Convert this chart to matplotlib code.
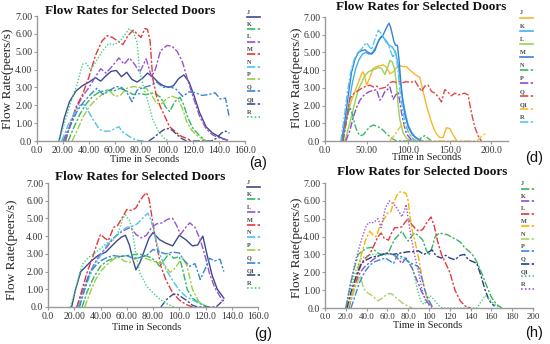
import matplotlib
matplotlib.use("Agg")
import matplotlib.pyplot as plt
from matplotlib.lines import Line2D

# ---------------- data (time s, flow peers/s) ----------------
NAMES = ["J", "K", "L", "M", "N", "P", "Q", "Q1", "R"]
Y_TICKS = [0, 1, 2, 3, 4, 5, 6, 7]
Y_LABELS = ["0.0", "1.00", "2.00", "3.00", "4.00", "5.00", "6.00", "7.00"]

# panel (a)
A_J_T = [17, 21, 25, 30, 35, 40, 45, 49, 53, 57, 61, 65, 69, 73, 77, 81, 85, 89, 93, 97, 101, 105, 109, 113, 117, 121, 125, 130, 135, 141, 146]
A_J_V = [0, 1.3, 2.2, 2.8, 3.1, 3.3, 3.55, 3.35, 3.65, 3.9, 3.95, 3.6, 3.85, 3.45, 3.3, 3.5, 3.8, 3.6, 3.3, 3.1, 3.0, 3.1, 3.5, 3.7, 3.3, 2.5, 1.6, 0.8, 0.45, 0.2, 0.05]
A_K_T = [24, 28, 33, 38, 43, 48, 54, 59, 64, 69, 74, 79, 84, 90, 95, 99, 102, 106, 110, 113, 116, 120, 125, 130]
A_K_V = [0, 0.7, 1.5, 2.1, 2.5, 2.75, 2.85, 2.8, 2.95, 2.8, 2.6, 2.65, 2.6, 2.7, 2.45, 1.9, 1.65, 2.2, 2.45, 2.0, 1.3, 0.7, 0.3, 0]
A_L_T = [20, 25, 30, 35, 40, 45, 49, 53, 58, 63, 67, 71, 75, 79, 84, 88, 91, 95, 100, 104, 108, 112, 116, 120, 125, 130, 135, 141, 147]
A_L_V = [0, 0.8, 1.8, 2.5, 3.0, 3.6, 4.05, 3.8, 4.2, 4.65, 4.3, 4.65, 4.3, 3.85, 4.6, 3.6, 4.0, 5.05, 5.35, 5.3, 5.0, 4.4, 3.4, 2.5, 1.4, 0.7, 0.35, 0.15, 0.05]
A_M_T = [22, 26, 30, 35, 40, 45, 50, 54, 58, 62, 66, 70, 74, 77, 80, 83, 85, 87, 89, 92, 95, 102, 110, 118]
A_M_V = [0, 1.0, 1.9, 2.6, 3.6, 4.8, 5.6, 5.9, 5.8, 5.6, 5.4, 5.9, 6.2, 6.0, 5.8, 6.3, 6.25, 5.6, 3.5, 2.5, 1.9, 0.8, 0.3, 0.05]
A_N_T = [19, 24, 29, 33, 36, 40, 44, 48, 52, 56, 60, 63, 66, 70, 74, 78, 82]
A_N_V = [0, 0.9, 1.6, 2.0, 2.05, 1.6, 1.1, 0.65, 0.55, 0.55, 0.7, 0.8, 0.5, 0.3, 0.12, 0.03, 0]
A_P_T = [27, 31, 35, 40, 45, 50, 55, 60, 64, 69, 74, 79, 84, 88, 92, 96, 100, 104, 108, 112, 115, 119, 124, 130]
A_P_V = [0, 0.6, 1.3, 1.9, 2.3, 2.6, 2.85, 2.5, 2.55, 2.95, 3.05, 3.0, 2.95, 2.6, 2.1, 2.1, 2.4, 2.5, 2.4, 1.8, 1.1, 0.6, 0.25, 0]
A_Q_T = [21, 26, 31, 36, 41, 46, 51, 56, 61, 65, 69, 73, 77, 82, 87, 92, 97, 102, 107, 112, 117, 122, 127, 132, 137, 141, 145, 148]
A_Q_V = [0, 0.9, 1.7, 2.2, 2.6, 2.95, 2.6, 2.85, 3.05, 3.0, 2.75, 2.2, 2.85, 3.0, 3.1, 3.3, 3.0, 3.05, 2.9, 2.5, 2.75, 2.7, 2.55, 2.6, 2.7, 2.35, 2.4, 1.3]
A_Q1_T = [86, 90, 94, 98, 101, 104, 107, 111, 115, 134, 138, 142, 145, 148]
A_Q1_V = [0, 0.2, 0.45, 0.65, 0.7, 0.6, 0.4, 0.15, 0, 0, 0.15, 0.45, 0.55, 0.45]
A_R_T = [17, 22, 27, 31, 35, 38, 41, 45, 50, 55, 60, 65, 68, 71, 74, 77, 79, 82, 85, 89, 93, 97, 101]
A_R_V = [0, 1.2, 2.4, 3.2, 4.3, 4.35, 4.0, 4.4, 5.0, 5.45, 5.4, 5.7, 6.0, 6.3, 6.1, 5.5, 3.9, 3.0, 2.3, 1.2, 0.6, 0.2, 0]

# panel (d)
D_J_T = [20, 24, 28, 32, 36, 40, 44, 46, 48, 50, 54, 58, 62, 66, 70, 74, 78, 82, 86, 90, 94, 98, 102, 106, 110, 114, 118, 122, 126, 130, 134, 138, 142, 146, 150, 154, 158]
D_J_V = [0, 0.9, 1.7, 2.3, 2.8, 3.3, 3.8, 3.9, 3.6, 3.15, 3.6, 4.1, 4.2, 4.25, 4.3, 4.15, 3.8, 3.9, 4.15, 4.25, 4.2, 4.2, 4.0, 3.85, 3.7, 3.6, 2.8, 2.0, 1.35, 0.8, 0.4, 0.2, 0.2, 0.75, 0.7, 0.35, 0.05]
D_K_T = [21, 25, 29, 33, 37, 41, 45, 49, 53, 57, 61, 65, 69, 73, 77, 81, 85, 88, 91, 94, 97, 100, 104, 108, 113, 118]
D_K_V = [0, 1.0, 2.2, 3.3, 4.1, 4.6, 4.9, 5.0, 4.9, 5.0, 5.3, 5.7, 5.9, 5.7, 5.4, 5.3, 5.0, 4.3, 3.2, 2.2, 1.5, 0.9, 0.5, 0.25, 0.08, 0]
D_L_T = [24, 28, 32, 36, 40, 44, 48, 52, 56, 60, 64, 68, 72, 75, 78, 81, 84, 86, 88, 90, 94, 98, 104]
D_L_V = [0, 0.7, 1.4, 2.2, 2.9, 3.3, 3.7, 3.9, 4.0, 4.05, 4.15, 4.1, 3.75, 4.1, 4.55, 4.45, 4.0, 3.1, 2.0, 1.2, 0.45, 0.15, 0]
D_M_T = [20, 24, 28, 32, 36, 40, 44, 48, 52, 56, 60, 63, 66, 70, 73, 75, 77, 79, 81, 83, 85, 87, 89, 91, 93, 96, 100, 105, 110, 116]
D_M_V = [0, 1.2, 2.6, 3.9, 4.6, 5.0, 5.1, 5.15, 5.0, 4.9, 5.1, 5.5, 5.8, 6.0, 6.3, 6.5, 6.65, 6.4, 6.0, 5.6, 5.4, 5.4, 4.6, 3.4, 2.4, 1.5, 0.8, 0.35, 0.15, 0]
D_N_T = [21, 25, 28, 30, 33, 36, 39, 42, 46, 50, 54, 58, 62, 66, 70, 74, 78, 82, 86, 112, 116, 120, 124, 128]
D_N_V = [0, 0.9, 1.6, 1.9, 1.5, 0.9, 0.5, 0.3, 0.35, 0.6, 0.8, 0.9, 0.85, 0.75, 0.6, 0.4, 0.25, 0.1, 0, 0, 0.2, 0.3, 0.15, 0]
D_P_T = [25, 30, 34, 38, 42, 46, 50, 54, 58, 62, 64, 66, 69, 72, 75, 78, 80, 82, 85, 88, 90, 92, 95, 98, 104]
D_P_V = [0, 0.6, 1.35, 1.9, 2.3, 2.55, 2.7, 2.8, 2.85, 2.9, 2.6, 2.3, 2.5, 2.8, 2.9, 3.05, 2.7, 2.35, 2.6, 2.75, 2.2, 1.6, 0.9, 0.4, 0.05]
D_Q_T = [22, 26, 30, 35, 40, 45, 50, 54, 58, 62, 66, 70, 74, 78, 82, 86, 90, 94, 98, 103, 108, 112, 116, 120, 124, 128, 132, 136, 140, 144, 148, 152, 156, 160, 164, 168, 172, 176, 180, 184, 188]
D_Q_V = [0, 1.3, 2.4, 2.7, 2.85, 3.0, 3.1, 3.15, 3.05, 3.1, 2.95, 3.0, 3.05, 3.3, 3.35, 3.3, 3.35, 3.3, 3.35, 3.3, 3.4, 3.1, 2.8, 3.1, 3.15, 2.8, 2.7, 2.5, 2.2, 2.9, 2.75, 2.55, 2.7, 2.6, 2.65, 2.7, 2.6, 1.6, 0.8, 0.3, 0]
D_Q1_T = [78, 83, 88, 93, 97, 101, 105, 110, 183, 187, 190, 193]
D_Q1_V = [0, 0.3, 0.65, 0.95, 0.85, 0.45, 0.15, 0, 0, 0.2, 0.35, 0.4]
D_R_T = [19, 23, 27, 31, 35, 40, 44, 47, 50, 53, 56, 59, 62, 64, 67, 70, 73, 76, 79, 82, 84, 86, 88, 90, 93, 96, 100, 105, 110]
D_R_V = [0, 1.3, 2.8, 3.9, 4.6, 5.0, 5.2, 5.4, 5.55, 5.35, 5.15, 5.6, 6.0, 6.25, 6.1, 5.9, 5.6, 5.45, 5.05, 4.7, 5.1, 4.6, 3.9, 2.9, 1.9, 1.1, 0.5, 0.15, 0]

# panel (g)
G_J_T = [18, 21, 25, 29, 33, 38, 44, 48, 52, 56, 59, 62, 65, 67, 70, 74, 77, 80, 85, 90, 95, 100, 105, 110, 114, 118, 121, 125, 129, 134]
G_J_V = [0, 1.0, 2.0, 2.3, 2.6, 2.9, 3.1, 3.4, 3.7, 3.95, 4.05, 3.5, 2.6, 2.1, 2.5, 3.3, 3.9, 4.2, 3.8, 3.6, 3.45, 4.05, 3.8, 3.45, 3.5, 4.0, 3.0, 1.8, 1.0, 0.5]
G_K_T = [26, 30, 35, 40, 45, 50, 55, 60, 65, 69, 74, 78, 82, 85, 89, 92, 96, 100, 103, 106, 110, 116, 122]
G_K_V = [0, 0.9, 1.7, 2.3, 2.6, 2.75, 2.85, 2.9, 2.95, 3.0, 2.9, 2.8, 2.6, 2.3, 2.7, 3.0, 2.75, 2.85, 2.0, 1.0, 0.5, 0.2, 0]
G_L_T = [22, 26, 30, 35, 40, 45, 50, 55, 60, 63, 67, 71, 75, 79, 83, 87, 91, 95, 98, 101, 105, 108, 112, 116, 120, 123, 127, 131, 134]
G_L_V = [0, 0.8, 1.6, 2.4, 3.0, 3.4, 3.9, 4.2, 4.4, 4.5, 4.1, 3.9, 4.05, 4.5, 4.7, 4.75, 4.95, 5.0, 4.6, 4.1, 4.5, 4.75, 4.5, 3.8, 2.8, 1.9, 1.1, 0.6, 0.2]
G_M_T = [22, 26, 30, 34, 37, 40, 43, 46, 50, 53, 57, 60, 64, 67, 70, 73, 75, 77, 80, 83, 86, 90, 95, 100, 105, 110]
G_M_V = [0, 1.0, 2.0, 2.8, 3.5, 4.1, 3.9, 3.75, 4.5, 4.6, 5.1, 5.5, 5.45, 5.6, 6.0, 6.3, 6.45, 6.1, 4.7, 3.4, 2.3, 1.5, 0.8, 0.4, 0.15, 0]
G_N_T = [23, 27, 31, 35, 40, 44, 48, 52, 56, 60, 64, 68, 72, 76, 78, 80, 85, 90, 95, 100, 105, 110, 118]
G_N_V = [0, 0.8, 1.6, 2.3, 2.9, 3.4, 3.8, 4.0, 4.3, 4.5, 4.55, 4.7, 5.0, 5.3, 5.0, 4.5, 3.0, 2.1, 1.5, 0.95, 0.6, 0.4, 0.1]
G_P_T = [28, 32, 36, 40, 45, 50, 54, 58, 62, 66, 70, 74, 78, 83, 88, 93, 97, 100, 103, 106, 110, 115, 121]
G_P_V = [0, 0.8, 1.5, 2.0, 2.4, 2.7, 2.8, 2.6, 2.5, 2.7, 2.8, 2.75, 2.65, 2.5, 2.45, 1.95, 2.2, 2.55, 2.75, 2.3, 1.0, 0.3, 0]
G_Q_T = [24, 28, 32, 36, 40, 45, 50, 55, 60, 65, 70, 75, 80, 85, 90, 95, 100, 104, 108, 112, 116, 120, 123, 127, 131, 134]
G_Q_V = [0, 1.0, 2.0, 2.3, 2.6, 2.8, 2.9, 2.85, 2.9, 2.75, 2.8, 2.9, 3.25, 3.1, 3.0, 3.1, 3.05, 2.6, 2.3, 2.45, 1.55, 2.2, 2.75, 2.6, 2.7, 2.0]
G_Q1_T = [86, 90, 95, 98, 102, 106, 110, 114, 128, 131, 134]
G_Q1_V = [0, 0.4, 0.7, 0.75, 0.55, 0.35, 0.1, 0, 0, 0.2, 0.4]
G_R_T = [17, 21, 24, 27, 31, 35, 40, 45, 50, 54, 57, 59, 62, 64, 67, 70, 75, 80, 85, 90, 96]
G_R_V = [0, 1.0, 1.9, 2.5, 2.8, 3.0, 3.3, 3.6, 3.8, 4.3, 5.0, 5.2, 4.9, 4.4, 3.0, 1.9, 1.2, 0.8, 0.45, 0.2, 0]

# panel (h)
H_J_T = [20, 24, 28, 32, 36, 40, 45, 50, 54, 58, 61, 64, 67, 71, 74, 77, 80, 83, 86, 90, 94, 97, 100, 103, 106, 110, 114, 118, 122, 126, 130, 134, 138, 141, 144, 147, 151, 155, 160, 165, 170]
H_J_V = [0, 1.2, 2.2, 3.0, 3.2, 3.35, 3.4, 3.1, 3.0, 3.05, 3.1, 3.5, 3.85, 4.1, 4.3, 4.0, 3.75, 4.0, 4.2, 4.05, 3.8, 3.3, 2.95, 3.4, 4.0, 4.2, 4.15, 4.1, 3.95, 3.85, 3.7, 3.4, 3.2, 3.05, 2.8, 2.45, 1.9, 1.3, 0.6, 0.2, 0]
H_K_T = [22, 26, 30, 34, 38, 42, 46, 51, 56, 61, 64, 67, 71, 74, 78, 81, 84, 88, 93, 98, 103]
H_K_V = [0, 0.8, 1.5, 2.0, 2.3, 2.5, 2.7, 2.9, 3.0, 3.1, 3.0, 2.95, 2.7, 2.5, 2.8, 2.5, 2.2, 1.6, 0.9, 0.35, 0.05]
H_L_T = [23, 27, 31, 35, 39, 43, 47, 51, 54, 57, 61, 64, 67, 71, 74, 77, 80, 83, 86, 90, 94, 98, 102, 105, 108, 112, 116, 120, 125, 130, 135, 140]
H_L_V = [0, 0.9, 1.8, 2.5, 2.8, 3.0, 3.5, 4.0, 4.2, 3.9, 3.8, 4.2, 4.5, 4.5, 4.55, 4.8, 5.0, 4.7, 4.5, 4.3, 4.4, 4.8, 5.1, 4.6, 3.8, 3.0, 2.5, 2.0, 1.0, 0.4, 0.1, 0]
H_M_T = [22, 27, 31, 35, 39, 43, 46, 49, 53, 57, 60, 63, 66, 69, 72, 75, 78, 80, 82, 84, 87, 90, 93, 96, 99, 103]
H_M_V = [0, 1.0, 2.0, 3.0, 3.8, 4.3, 4.1, 4.0, 4.6, 5.0, 5.3, 5.35, 5.9, 6.3, 6.5, 6.5, 6.4, 6.0, 5.0, 4.3, 3.6, 2.8, 1.8, 1.0, 0.4, 0.05]
H_N_T = [22, 26, 30, 34, 37, 41, 45, 48, 51, 55, 58, 61, 64, 67, 70, 74, 77, 80, 84]
H_N_V = [0, 0.6, 1.3, 1.8, 1.1, 0.85, 0.7, 0.55, 0.4, 0.55, 0.7, 0.8, 0.8, 0.65, 0.5, 0.3, 0.2, 0.1, 0]
H_P_T = [25, 29, 33, 38, 43, 48, 53, 58, 62, 66, 70, 74, 77, 80, 83, 87, 90, 93, 96, 99, 103]
H_P_V = [0, 0.7, 1.4, 2.0, 2.4, 2.6, 2.7, 2.8, 2.65, 2.5, 3.0, 2.85, 2.8, 2.6, 2.5, 2.4, 2.3, 1.7, 1.0, 0.5, 0.1]
H_Q_T = [21, 25, 30, 35, 40, 45, 50, 55, 60, 65, 70, 75, 80, 85, 90, 95, 100, 103, 107, 112, 116, 120, 125, 130, 134, 138, 142, 146, 150, 154, 158, 163]
H_Q_V = [0, 0.9, 1.8, 2.5, 2.7, 2.85, 2.9, 3.0, 3.05, 3.0, 3.05, 3.1, 3.15, 3.15, 3.2, 3.0, 3.15, 3.25, 2.9, 2.8, 2.95, 2.8, 2.7, 2.95, 3.0, 2.7, 2.6, 2.5, 1.8, 1.0, 0.4, 0.1]
H_Q1_T = [20, 24, 29, 35, 40, 45, 50, 55, 60, 64, 68, 72, 76, 80, 83, 86, 89, 92, 95, 98, 101, 105, 109, 113, 146, 150, 154, 158, 163, 168]
H_Q1_V = [0, 1.0, 2.0, 2.8, 2.9, 3.0, 3.0, 2.95, 3.0, 3.0, 2.9, 2.8, 2.7, 2.6, 2.5, 1.8, 1.0, 0.4, 0.2, 0.4, 0.7, 0.45, 0.15, 0, 0, 0.35, 0.7, 0.5, 0.2, 0]
H_R_T = [20, 25, 30, 35, 39, 42, 45, 48, 51, 54, 58, 62, 65, 68, 71, 74, 76, 78, 80, 83, 86, 90, 93, 96, 100, 104]
H_R_V = [0, 1.5, 2.8, 3.8, 4.5, 4.8, 4.75, 4.85, 5.0, 4.5, 5.6, 6.0, 5.85, 5.7, 5.4, 5.1, 5.4, 5.8, 5.0, 3.9, 3.0, 2.0, 1.1, 0.5, 0.15, 0]

# ---------------- styles ----------------
DASH = (5, 1.4, 1.6, 1.4)
DOT = (1, 1.3)
SOLID = None

STYLE_AG = {
    "J": ("#3d4a8c", SOLID), "K": ("#2fb865", DASH), "L": ("#9a52cf", DASH),
    "M": ("#e03a3a", DASH), "N": ("#4cc4ee", DASH), "P": ("#9ad040", DASH),
    "Q": ("#3a86d2", DASH), "Q1": ("#3d4a8c", DASH), "R": ("#3fd27a", DOT),
}
STYLE_D = {
    "J": ("#f5b82a", SOLID), "K": ("#3db3ee", SOLID), "L": ("#96d455", SOLID),
    "M": ("#3a7fd8", SOLID), "N": ("#39b865", DASH), "P": ("#8a4fcc", DASH),
    "Q": ("#e04848", DASH), "Q1": ("#f5c030", DASH), "R": ("#55c5f2", DASH),
}
STYLE_H = {
    "J": ("#35b55c", DASH), "K": ("#9050d0", DASH), "L": ("#e03a3a", DASH),
    "M": ("#f4b400", DASH), "N": ("#a6d466", DASH), "P": ("#3a86e0", DASH),
    "Q": ("#2a3a8a", DASH), "Q1": ("#3fd27a", DOT), "R": ("#9a55e0", DOT),
}

SERIF = "Liberation Serif"
W, H = 550, 344

fig = plt.figure(figsize=(W / 100, H / 100), dpi=100)


def fx(px):
    return px / W


def fy(py):
    return 1 - py / H


def panel(data, styles, box, xmax, xticks, xlabels, xsize, title_xy, ylab_xy, xlab_xy, tag_xy, leg_xy, leg_step):
    left, top, right, bottom = box
    ax = fig.add_axes([fx(left), fy(bottom), fx(right - left), (bottom - top) / H])
    for name in NAMES:
        t, v = data[name]
        color, dash = styles[name]
        ln, = ax.plot(t, v, color=color, lw=1.0)
        if dash is not None:
            ln.set_dashes(dash)
    ax.set_xlim(0, xmax)
    ax.set_ylim(0, 7)
    ax.set_facecolor("none")
    for s in ["top", "right"]:
        ax.spines[s].set_visible(False)
    for s in ["left", "bottom"]:
        ax.spines[s].set_color("#9a9a9a")
        ax.spines[s].set_linewidth(1.0)
    ax.set_yticks(Y_TICKS)
    ax.set_yticklabels(Y_LABELS)
    ax.set_xticks(xticks)
    ax.set_xticklabels(xlabels)
    ax.tick_params(length=2.5, width=0.8, color="#9a9a9a", pad=1.0, labelsize=7, labelcolor="#333333")
    ax.tick_params(axis="x", labelsize=xsize)
    for lab in ax.get_xticklabels() + ax.get_yticklabels():
        lab.set_fontfamily(SERIF)

    fig.text(fx(title_xy[0]), fy(title_xy[1]), "Flow Rates for Selected Doors", ha="center", va="center",
             fontsize=9.5, fontweight="bold", family=SERIF, color="#111111")
    fig.text(fx(ylab_xy[0]), fy(ylab_xy[1]), "Flow Rate(peers/s)", ha="center", va="center", rotation=90,
             fontsize=9.5, family=SERIF, color="#222222")
    fig.text(fx(xlab_xy[0]), fy(xlab_xy[1]), "Time in Seconds", ha="center", va="center",
             fontsize=7.5, family=SERIF, color="#222222")
    fig.text(fx(tag_xy[0]), fy(tag_xy[1]), tag_xy[2], ha="center", va="center",
             fontsize=10.5, family="Liberation Sans", color="#111111")

    lx, ly = leg_xy
    for i, name in enumerate(NAMES):
        y = ly + i * leg_step
        fig.text(fx(lx), fy(y), name, ha="left", va="center", fontsize=4.5, family=SERIF,
                 fontweight="bold", color="#444444")
        color, dash = styles[name]
        ln = Line2D([fx(lx), fx(lx + 13)], [fy(y + 4.5), fy(y + 4.5)], transform=fig.transFigure,
                    color=color, lw=1.2)
        if dash is not None:
            ln.set_dashes(dash)
        fig.add_artist(ln)
    return ax


data_a = {"J": (A_J_T, A_J_V), "K": (A_K_T, A_K_V), "L": (A_L_T, A_L_V), "M": (A_M_T, A_M_V),
          "N": (A_N_T, A_N_V), "P": (A_P_T, A_P_V), "Q": (A_Q_T, A_Q_V), "Q1": (A_Q1_T, A_Q1_V),
          "R": (A_R_T, A_R_V)}
data_d = {"J": (D_J_T, D_J_V), "K": (D_K_T, D_K_V), "L": (D_L_T, D_L_V), "M": (D_M_T, D_M_V),
          "N": (D_N_T, D_N_V), "P": (D_P_T, D_P_V), "Q": (D_Q_T, D_Q_V), "Q1": (D_Q1_T, D_Q1_V),
          "R": (D_R_T, D_R_V)}
data_g = {"J": (G_J_T, G_J_V), "K": (G_K_T, G_K_V), "L": (G_L_T, G_L_V), "M": (G_M_T, G_M_V),
          "N": (G_N_T, G_N_V), "P": (G_P_T, G_P_V), "Q": (G_Q_T, G_Q_V), "Q1": (G_Q1_T, G_Q1_V),
          "R": (G_R_T, G_R_V)}
data_h = {"J": (H_J_T, H_J_V), "K": (H_K_T, H_K_V), "L": (H_L_T, H_L_V), "M": (H_M_T, H_M_V),
          "N": (H_N_T, H_N_V), "P": (H_P_T, H_P_V), "Q": (H_Q_T, H_Q_V), "Q1": (H_Q1_T, H_Q1_V),
          "R": (H_R_T, H_R_V)}

X160 = [0, 20, 40, 60, 80, 100, 120, 140, 160]
X160_LAB = ["0.0", "20.00", "40.00", "60.00", "80.00", "100.0", "120.0", "140.0", "160.0"]
X220 = [0, 50, 100, 150, 200]
X220_LAB = ["0.0", "50.00", "100.0", "150.0", "200.0"]
X200 = [0, 20, 40, 60, 80, 100, 120, 140, 160, 180, 200]
X200_LAB = ["0.0", "20.0", "40.0", "60.0", "80.0", "100", "120", "140", "160", "180", "200"]

panel(data_a, STYLE_AG, (37, 16, 245, 141), 160, X160, X160_LAB, 7,
      (130, 11), (8, 79), (145, 160), (258, 163, "(a)"), (247, 12), 12.5)
panel(data_d, STYLE_D, (325, 17, 508, 141), 220, X220, X220_LAB, 7,
      (421, 7), (297, 78), (427, 158), (534, 158, "(d)"), (520, 13), 13.1)
panel(data_g, STYLE_AG, (48, 183, 258, 307), 160, X160, X160_LAB, 7,
      (140, 177), (12, 250), (147, 328), (263, 334, "(g)"), (247, 182), 12.7)
panel(data_h, STYLE_H, (325, 183, 533, 308), 200, X200, X200_LAB, 6.5,
      (422, 172), (297, 248), (428, 326), (534, 333, "(h)"), (521, 184), 12.5)

fig.savefig("out.png", dpi=100, facecolor="white")
